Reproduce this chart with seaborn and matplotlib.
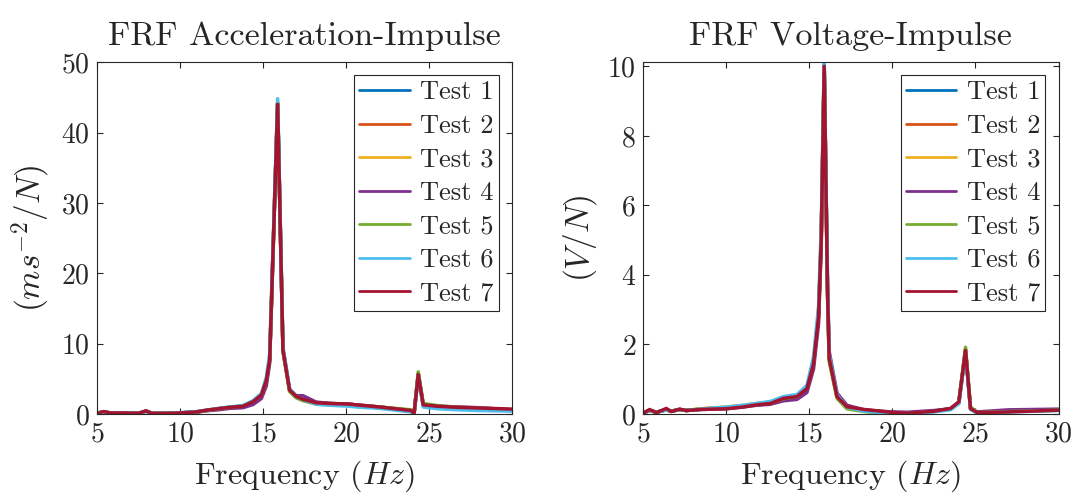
import matplotlib
matplotlib.use("Agg")
import matplotlib.pyplot as plt
import seaborn as sns
import pandas as pd

# --- data ---
tests = ["Test 1", "Test 2", "Test 3", "Test 4", "Test 5", "Test 6", "Test 7"]
colors = ["#0072BD", "#D95319", "#EDB120", "#7E2F8E", "#77AC30", "#4DBEEE", "#A2142F"]

freq_acc = [5.0, 5.4, 5.8, 6.5, 7.5, 7.95, 8.3, 9.0, 10.0, 11.0, 11.6, 12.3, 13.0, 13.8,
            14.4, 14.9, 15.2, 15.4, 15.88, 16.2, 16.6, 17.0, 17.4, 18.2, 19.0, 20.2,
            20.6, 22.0, 23.9, 24.1, 24.35, 24.65, 25.5, 26.7, 28.0, 30.0]
acc_t1 = [0.1, 0.3, 0.15, 0.15, 0.1, 0.4, 0.1, 0.1, 0.15, 0.3, 0.5, 0.75, 0.95, 1.1,
          1.7, 2.6, 4.7, 7.8, 44.3, 9.0, 3.3, 2.4, 2.0, 1.5, 1.4, 1.3, 1.2, 0.9, 0.45, 0.1,
          5.7, 1.2, 1.0, 0.85, 0.75, 0.5]
acc_t2 = [0.1, 0.3, 0.15, 0.15, 0.1, 0.4, 0.1, 0.1, 0.15, 0.3, 0.5, 0.75, 0.95, 1.1,
          1.7, 2.7, 4.8, 7.7, 44.1, 9.1, 3.4, 2.4, 2.0, 1.6, 1.5, 1.4, 1.3, 1.0, 0.5, 0.1,
          5.7, 1.3, 1.1, 0.9, 0.8, 0.55]
acc_t3 = [0.1, 0.3, 0.15, 0.15, 0.1, 0.4, 0.1, 0.1, 0.15, 0.3, 0.5, 0.75, 0.9, 1.1,
          1.6, 2.6, 4.6, 7.6, 44.2, 9.0, 3.3, 2.4, 2.0, 1.5, 1.45, 1.35, 1.25, 0.95, 0.5, 0.1,
          5.8, 1.25, 1.05, 0.9, 0.8, 0.5]
acc_t4 = [0.1, 0.3, 0.15, 0.15, 0.1, 0.4, 0.1, 0.1, 0.15, 0.25, 0.45, 0.6, 0.8, 0.9,
          1.35, 2.2, 4.0, 7.2, 44.0, 9.2, 3.5, 2.6, 2.6, 1.7, 1.5, 1.4, 1.3, 1.0, 0.5, 0.1,
          5.6, 1.3, 1.1, 1.0, 0.9, 0.6]
acc_t5 = [0.1, 0.3, 0.15, 0.15, 0.1, 0.4, 0.1, 0.1, 0.15, 0.3, 0.5, 0.75, 0.95, 1.2,
          1.8, 2.7, 4.8, 7.8, 44.2, 9.0, 3.2, 2.3, 1.9, 1.4, 1.3, 1.25, 1.2, 1.0, 0.6, 0.1,
          6.0, 1.5, 1.2, 0.95, 0.85, 0.55]
acc_t6 = [0.1, 0.3, 0.15, 0.15, 0.1, 0.4, 0.1, 0.1, 0.2, 0.35, 0.55, 0.8, 1.0, 1.2,
          1.9, 2.9, 5.2, 8.6, 44.8, 9.6, 3.6, 2.5, 2.1, 1.4, 1.25, 1.1, 1.0, 0.8, 0.3, 0.05,
          5.5, 1.0, 0.75, 0.6, 0.5, 0.4]
acc_t7 = [0.1, 0.35, 0.15, 0.15, 0.1, 0.45, 0.1, 0.1, 0.15, 0.3, 0.55, 0.75, 0.95, 1.1,
          1.75, 2.7, 4.8, 7.7, 44.0, 9.1, 3.4, 2.5, 2.1, 1.6, 1.5, 1.4, 1.3, 1.0, 0.5, 0.1,
          5.6, 1.3, 1.1, 0.95, 0.85, 0.7]

freq_volt = [5.0, 5.4, 5.8, 6.4, 6.7, 7.2, 7.6, 8.5, 9.2, 10.0, 11.0, 11.8, 12.65, 13.45,
             14.26, 14.86, 15.26, 15.56, 15.72, 15.9, 16.1, 16.2, 16.67, 17.27, 18.3, 19.9,
             20.9, 22.5, 23.5, 24.0, 24.4, 24.7, 25.1, 27.0, 30.0]
volt_t1 = [0.03, 0.1, 0.05, 0.12, 0.08, 0.13, 0.1, 0.14, 0.16, 0.18, 0.22, 0.28, 0.33, 0.45,
           0.52, 0.75, 1.5, 2.9, 5.1, 10.05, 3.5, 1.6, 0.5, 0.2, 0.1, 0.04, 0.03, 0.08,
           0.15, 0.33, 1.85, 0.15, 0.04, 0.08, 0.12]
volt_t2 = [0.03, 0.1, 0.05, 0.12, 0.08, 0.13, 0.1, 0.15, 0.17, 0.19, 0.24, 0.3, 0.34, 0.45,
           0.52, 0.75, 1.5, 2.9, 5.0, 10.0, 3.5, 1.6, 0.5, 0.2, 0.1, 0.04, 0.03, 0.08,
           0.15, 0.33, 1.85, 0.15, 0.04, 0.08, 0.12]
volt_t3 = [0.03, 0.1, 0.05, 0.12, 0.08, 0.13, 0.1, 0.15, 0.17, 0.2, 0.25, 0.29, 0.33, 0.44,
           0.5, 0.72, 1.45, 2.8, 5.0, 10.05, 3.5, 1.6, 0.5, 0.2, 0.1, 0.04, 0.03, 0.08,
           0.15, 0.33, 1.85, 0.15, 0.04, 0.08, 0.12]
volt_t4 = [0.03, 0.1, 0.05, 0.12, 0.08, 0.13, 0.1, 0.13, 0.14, 0.15, 0.2, 0.25, 0.28, 0.38,
           0.42, 0.62, 1.3, 2.6, 4.8, 9.95, 3.7, 1.8, 0.6, 0.25, 0.12, 0.06, 0.05, 0.1,
           0.15, 0.33, 1.8, 0.17, 0.06, 0.12, 0.14]
volt_t5 = [0.03, 0.1, 0.05, 0.12, 0.08, 0.13, 0.1, 0.14, 0.16, 0.17, 0.22, 0.27, 0.31, 0.44,
           0.5, 0.74, 1.5, 2.9, 5.1, 10.05, 3.4, 1.5, 0.45, 0.15, 0.07, 0.0, 0.01, 0.07,
           0.14, 0.33, 1.92, 0.2, 0.04, 0.07, 0.11]
volt_t6 = [0.03, 0.1, 0.05, 0.12, 0.08, 0.13, 0.1, 0.14, 0.17, 0.2, 0.25, 0.3, 0.36, 0.5,
           0.56, 0.82, 1.65, 3.1, 5.4, 10.15, 3.8, 1.7, 0.55, 0.2, 0.08, 0.02, 0.01, 0.06,
           0.12, 0.3, 1.75, 0.13, 0.03, 0.06, 0.1]
volt_t7 = [0.02, 0.13, 0.04, 0.16, 0.07, 0.14, 0.1, 0.13, 0.14, 0.15, 0.2, 0.26, 0.3, 0.45,
           0.5, 0.73, 1.45, 2.8, 5.0, 10.0, 3.5, 1.6, 0.5, 0.21, 0.13, 0.05, 0.02, 0.08,
           0.16, 0.35, 1.83, 0.16, 0.04, 0.06, 0.11]

acc_series = [acc_t1, acc_t2, acc_t3, acc_t4, acc_t5, acc_t6, acc_t7]
volt_series = [volt_t1, volt_t2, volt_t3, volt_t4, volt_t5, volt_t6, volt_t7]


def long_frame(freq, series):
    rows = []
    for name, vals in zip(tests, series):
        for f, v in zip(freq, vals):
            rows.append({"Frequency": f, "Value": v, "Test": name})
    return pd.DataFrame(rows)


df_acc = long_frame(freq_acc, acc_series)
df_volt = long_frame(freq_volt, volt_series)

sns.set_theme(style="ticks")
plt.rcParams["font.family"] = ["cmr10", "DejaVu Serif"]
plt.rcParams["mathtext.fontset"] = "cm"
plt.rcParams["axes.formatter.use_mathtext"] = True
plt.rcParams["axes.unicode_minus"] = False

fig = plt.figure(figsize=(10.78, 4.97), dpi=100)
ax1 = fig.add_axes([0.090, 0.167, 0.385, 0.708])
ax2 = fig.add_axes([0.5965, 0.167, 0.3855, 0.708])

panels = [
    (ax1, df_acc, "FRF Acceleration-Impulse", r"$(ms^{-2}/N)$", (0, 50), range(0, 51, 10)),
    (ax2, df_volt, "FRF Voltage-Impulse", r"$(V/N)$", (0, 10.12), range(0, 11, 2)),
]

for ax, df, title, ylabel, ylim, yticks in panels:
    sns.lineplot(data=df, x="Frequency", y="Value", hue="Test", hue_order=tests,
                 palette=colors, linewidth=2.5, ax=ax, estimator=None, sort=False)
    ax.set_xlim(5, 30)
    ax.set_ylim(*ylim)
    ax.set_xticks([5, 10, 15, 20, 25, 30])
    ax.set_yticks(list(yticks))
    ax.set_title(title, fontsize=24.5, pad=12)
    ax.set_xlabel(r"Frequency $(Hz)$", fontsize=23, labelpad=8)
    ax.set_ylabel(ylabel, fontsize=24, labelpad=6)
    ax.tick_params(direction="in", top=True, right=True, labelsize=20,
                   length=4, width=0.8, color="#262626", pad=5)
    for s in ax.spines.values():
        s.set_visible(True)
        s.set_color("#262626")
        s.set_linewidth(0.8)
    leg = ax.legend(loc="upper right", fontsize=19, frameon=True, fancybox=False,
                    edgecolor="#262626", framealpha=1, handlelength=1.9,
                    labelspacing=0.37, borderpad=0.2, handletextpad=0.4,
                    borderaxespad=0.5)
    leg.get_frame().set_linewidth(0.8)
    for h in leg.get_lines():
        h.set_linewidth(2.0)

fig.savefig("out.png", dpi=100)
